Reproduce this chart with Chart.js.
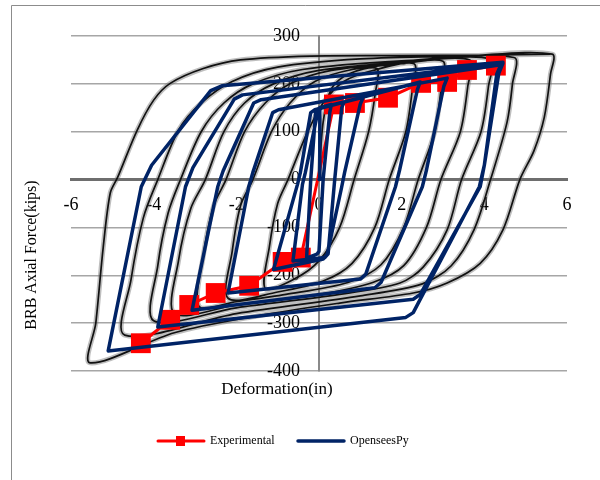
<!DOCTYPE html>
<html>
<head>
<meta charset="utf-8">
<script src="https://cdn.jsdelivr.net/npm/chart.js@4.4.1/dist/chart.umd.min.js"></script>
<style>
  html, body { margin: 0; padding: 0; background: #fff; }
  #wrap { position: relative; width: 600px; height: 480px; }
</style>
</head>
<body>
<div id="wrap"><canvas id="c" width="600" height="480"></canvas></div>
<script>
// Axis ticks
const xTicks = [-6, -4, -2, 0, 2, 4, 6];
const yTicks = [300, 200, 100, 0, -100, -200, -300, -400];
const seriesNames = ['Experimental', 'OpenseesPy'];

// Experimental envelope (deformation in, force kips)
const expDeformation = [-4.31, -3.6, -3.14, -2.5, -1.69, -0.88, -0.44, 0.36, 0.87, 1.67, 2.47, 3.1, 3.58, 4.28];
const expForce       = [-342, -293, -262, -237, -222, -172, -163, 157, 160, 171, 202, 204, 229, 238];

// OpenSeesPy cyclic response, in load-history order
const simDeformation = [
  0, 0.02, 0.3,
  0.26, 0.1, 0.0, -0.05, -0.3,
  -0.2, -0.08, 0.0, 0.6,
  0.55, 0.38, 0.22, 0.14, -0.63,
  -0.4, -0.33, -0.02, 0.1, 1.07,
  1.0, 0.62, 0.55, 0.2, 0.1, -1.1,
  -0.52, -0.45, -0.2, -0.1, 2.45,
  2.38, 1.95, 1.85, 1.13, 1.0, -2.2,
  -1.7, -1.6, -1.12, -0.98, 3.1,
  3.02, 2.6, 2.5, 1.5, 1.35, -3.07,
  -2.45, -2.32, -1.58, -1.4, 4.4,
  4.3, 4.0, 3.9, 2.45, 2.28, -3.9,
  -3.23, -3.05, -2.05, -1.85, 4.45,
  4.35, 4.0, 3.88, 2.28, 2.1, -5.1,
  -4.3, -4.05, -2.62, -2.35, 4.45
];
const simForce = [
  0, 150, 157,
  140, 0, -150, -156, -164,
  0, 143, 149, 162,
  150, 0, -155, -163, -170,
  -10, 15, 145, 151, 172,
  158, 15, -15, -156, -166, -188,
  -10, 15, 140, 146, 204,
  188, 20, -15, -198, -208, -237,
  -15, 15, 140, 146, 212,
  195, 20, -15, -215, -226, -273,
  -15, 18, 160, 167, 240,
  220, 30, -15, -240, -250, -308,
  -15, 25, 168, 177, 243,
  222, 30, -15, -278, -288, -358,
  -15, 30, 186, 196, 245
];

// Measured specimen hysteresis, one array per cycle: [deformation, force]
const testCycle1 = [[0,0],[0.1,120],[0.3,190],[0.7,220],[1.4,232],[1.36,180],[1.2,100],[0.85,0],[0.5,-100],[0.0,-170],[-0.6,-208],[-1.3,-228]];
const testCycle2 = [[-1.2,-140],[-1.0,-50],[-0.75,0],[-0.3,95],[0.1,160],[0.6,205],[1.3,228],[2.3,242],[2.26,190],[2.1,100],[1.7,0],[1.35,-100],[0.8,-175],[0.1,-212],[-1.0,-235],[-2.2,-248]];
const testCycle3 = [[-2.1,-150],[-1.9,-55],[-1.6,0],[-1.15,100],[-0.7,160],[-0.1,205],[0.8,230],[2.0,242],[3.0,247],[2.96,195],[2.8,100],[2.4,0],[2.05,-100],[1.5,-178],[0.7,-215],[-0.8,-240],[-2.0,-255],[-2.9,-265]];
const testCycle4 = [[-2.8,-160],[-2.55,-55],[-2.25,0],[-1.8,100],[-1.3,160],[-0.7,200],[0.3,228],[2.0,243],[3.65,250],[3.6,195],[3.42,100],[2.95,0],[2.6,-100],[2.05,-180],[1.3,-215],[0.0,-240],[-2.0,-262],[-3.5,-280]];
const testCycle5 = [[-3.4,-170],[-3.1,-60],[-2.75,0],[-2.3,100],[-1.8,160],[-1.1,200],[0.0,228],[2.0,245],[4.15,252],[4.1,195],[3.92,100],[3.45,0],[3.1,-105],[2.52,-183],[1.96,-216],[0.5,-240],[-2.0,-268],[-4.0,-295]];
const testCycle6 = [[-3.9,-180],[-3.65,-70],[-3.35,0],[-2.85,100],[-2.3,160],[-1.6,200],[-0.4,230],[2.0,248],[4.72,255],[4.68,200],[4.55,120],[4.15,0],[3.75,-105],[3.2,-180],[2.5,-218],[1.0,-243],[-2.0,-280],[-4.7,-325]];
const testCycle7 = [[-4.55,-210],[-4.25,-80],[-3.9,0],[-3.4,103],[-2.85,160],[-2.1,205],[-1.0,235],[1.0,252],[3.5,258],[5.64,262],[5.6,220],[5.45,130],[5.2,60],[4.86,0],[4.45,-105],[3.9,-175],[3.1,-216],[2.28,-237],[0.5,-258],[-1.5,-285],[-3.5,-320],[-5.54,-383]];
const testCycle8 = [[-5.4,-300],[-5.22,-141],[-5.05,-28],[-4.87,5],[-4.4,103],[-4.0,166],[-3.6,201],[-2.8,232],[-1.9,250],[-0.2,258],[2.0,259],[4.0,260],[5.6,262]];

const SERIF = "'Liberation Serif', 'Times New Roman', serif";
const RED = '#ff0000';
const NAVY = '#002366';

const toPoints = (xs, ys) => xs.map((x, i) => ({ x: x, y: ys[i] }));
const testTrace = [testCycle1, testCycle2, testCycle3, testCycle4, testCycle5, testCycle6, testCycle7, testCycle8]
  .flat().map(p => ({ x: p[0], y: p[1] }));

// Frame, force tick labels, axis titles and legend
const decor = {
  id: 'decor',
  beforeDraw(chart) {
    const ctx = chart.ctx;
    ctx.save();
    ctx.fillStyle = '#fff';
    ctx.fillRect(0, 0, chart.width, chart.height);
    ctx.strokeStyle = '#8c8c8c';
    ctx.lineWidth = 1;
    ctx.beginPath();
    ctx.moveTo(11.5, chart.height);
    ctx.lineTo(11.5, 5.5);
    ctx.lineTo(chart.width, 5.5);
    ctx.stroke();
    ctx.restore();
  },
  beforeDatasetsDraw(chart) {
    // force labels sit a little left of the vertical axis
    const ctx = chart.ctx;
    const xs = chart.scales.x, ys = chart.scales.y;
    const ax = xs.getPixelForValue(0);
    ctx.save();
    ctx.fillStyle = '#000';
    ctx.font = '18px ' + SERIF;
    ctx.textAlign = 'right';
    ctx.textBaseline = 'middle';
    yTicks.forEach(v => ctx.fillText(String(v), ax - 19, ys.getPixelForValue(v)));
    ctx.restore();
  },
  afterDraw(chart) {
    const ctx = chart.ctx;
    ctx.save();
    ctx.fillStyle = '#000';
    ctx.textAlign = 'center';
    ctx.textBaseline = 'middle';
    ctx.font = '17px ' + SERIF;
    ctx.fillText('Deformation(in)', 277, 390);

    ctx.save();
    ctx.translate(32, 255);
    ctx.rotate(-Math.PI / 2);
    ctx.font = '16px ' + SERIF;
    ctx.fillText('BRB Axial Force(kips)', 0, 0);
    ctx.restore();

    // legend
    const ly = 441;
    ctx.lineCap = 'round';
    ctx.strokeStyle = RED;
    ctx.lineWidth = 3;
    ctx.beginPath(); ctx.moveTo(158, ly); ctx.lineTo(204, ly); ctx.stroke();
    ctx.fillStyle = RED;
    ctx.fillRect(176, ly - 5, 9, 10);
    ctx.strokeStyle = NAVY;
    ctx.lineWidth = 3.5;
    ctx.beginPath(); ctx.moveTo(298, ly); ctx.lineTo(344, ly); ctx.stroke();
    ctx.fillStyle = '#000';
    ctx.textAlign = 'left';
    ctx.font = '12px ' + SERIF;
    ctx.fillText(seriesNames[0], 210, ly);
    ctx.fillText(seriesNames[1], 350, ly);
    ctx.restore();
  }
};

new Chart(document.getElementById('c'), {
  type: 'scatter',
  data: {
    datasets: [
      {
        label: seriesNames[1],
        data: toPoints(simDeformation, simForce),
        showLine: true,
        borderColor: NAVY,
        borderWidth: 3.5,
        borderJoinStyle: 'round',
        borderCapStyle: 'round',
        pointRadius: 0,
        tension: 0,
        order: 0
      },
      {
        label: seriesNames[0],
        data: toPoints(expDeformation, expForce),
        showLine: true,
        borderColor: RED,
        borderWidth: 3,
        pointStyle: 'rect',
        pointRadius: 14,
        pointBackgroundColor: RED,
        pointBorderWidth: 0,
        tension: 0,
        order: 1
      },
      {
        label: 'test',
        data: testTrace,
        showLine: true,
        borderColor: '#111',
        borderWidth: 1.7,
        pointRadius: 0,
        tension: 0.3,
        order: 2
      },
      {
        label: 'test halo',
        data: testTrace,
        showLine: true,
        borderColor: 'rgba(110,110,110,0.45)',
        borderWidth: 5,
        pointRadius: 0,
        tension: 0.3,
        order: 3
      }
    ]
  },
  options: {
    responsive: false,
    animation: false,
    events: [],
    layout: { padding: { left: 71, right: 33, top: 36, bottom: 109 } },
    plugins: { legend: { display: false }, tooltip: { enabled: false } },
    scales: {
      x: {
        type: 'linear',
        min: xTicks[0],
        max: xTicks[xTicks.length - 1],
        position: { y: 0 },
        afterBuildTicks: s => { s.ticks = xTicks.map(v => ({ value: v })); },
        grid: { display: false, drawTicks: true, tickLength: 12 },
        border: { display: true, color: '#6e6e6e', width: 3 },
        ticks: { color: '#000', font: { family: SERIF, size: 18 }, maxRotation: 0, autoSkip: false }
      },
      y: {
        type: 'linear',
        min: yTicks[yTicks.length - 1],
        max: yTicks[0],
        position: { x: 0 },
        afterBuildTicks: s => { s.ticks = yTicks.map(v => ({ value: v })); },
        grid: { display: true, color: '#a6a6a6', lineWidth: 1.5, drawTicks: false },
        border: { display: true, color: '#8a8a8a', width: 2 },
        ticks: { display: false }
      }
    }
  },
  plugins: [decor]
});
</script>
</body>
</html>
